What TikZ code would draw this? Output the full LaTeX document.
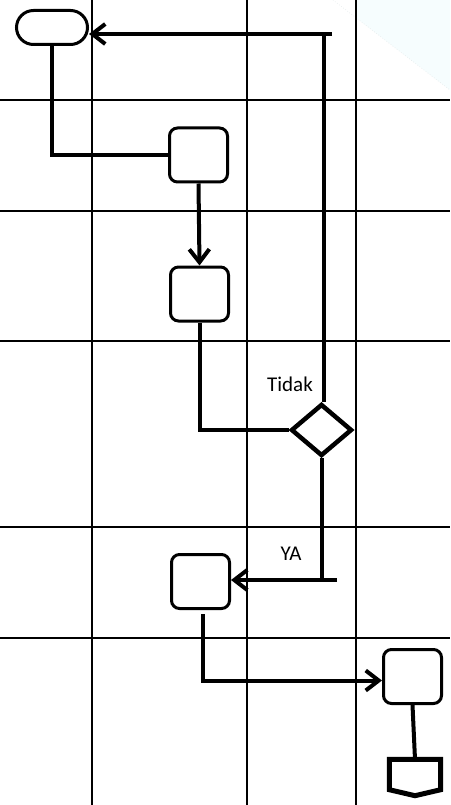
\documentclass[tikz,border=0pt]{standalone}
\usepackage{fontspec}
\setmainfont{Carlito}
\usetikzlibrary{arrows.meta,shapes.geometric,calc}
\definecolor{bgcyan}{RGB}{246,253,254}
\begin{document}
\begin{tikzpicture}[x=1pt,y=-1pt,
  gridline/.style={line width=2pt},
  conn/.style={line width=4pt},
  arr/.style={conn,-{Straight Barb[length=13pt,width=20pt]}},
  proc/.style={draw,line width=3pt,rounded corners=8pt,minimum width=58pt,minimum height=54pt,inner sep=0pt,fill=white},
  term/.style={draw,line width=3pt,rounded corners=17pt,minimum width=71pt,minimum height=34pt,inner sep=0pt,fill=white},
  dec/.style={diamond,draw,line width=4.5pt,minimum width=61pt,minimum height=52pt,inner sep=0pt,fill=white},
  lbl/.style={font=\fontsize{21}{24}\selectfont,inner sep=0pt}]
\useasboundingbox (0,0) rectangle (450,805);
\fill[white] (0,0) rectangle (450,805);
% faint background triangle
\fill[bgcyan] (356,0) -- (450,0) -- (450,90) -- (356,17.7) -- cycle;
\draw[bgcyan!85!gray, line width=0.6pt, dotted] (333,0) -- (450,90);
% grid
\foreach \x in {92,247,356} \draw[gridline] (\x,0) -- (\x,805);
\foreach \y in {100,211,341,527,638} \draw[gridline] (0,\y) -- (450,\y);
% nodes
\node[term] (start) at (52,27.5) {};
\node[proc] (box1) at (198.5,155) {};
\node[proc] (box2) at (199.5,294) {};
\node[dec] (dia) at (321.5,430) {};
\node[proc] (box3) at (200.5,581.5) {};
\node[proc] (box4) at (412.5,676.5) {};
\node[minimum width=51pt,minimum height=30pt,inner sep=0pt] (opc) at (415,774.5) {};
\draw[line width=5pt,fill=white] (opc.north west) -- (opc.north east) -- (opc.south east) -- ($(opc.south)+(0,6)$) -- (opc.south west) -- cycle;
% labels
\node[lbl] (tidak) at (290,384) {Tidak};
\node[lbl] (ya) at (291,554) {YA};
% connectors
\coordinate (c1) at (332,34);
\coordinate (c2) at (337,580);
\draw[conn] (start.south) |- (box1.west);
\draw[arr] (box1.south) -- (box2.north);
\draw[conn] (box2.south) |- (dia.west);
\draw[conn] ([xshift=2.5pt]dia.north) -- ([xshift=2.5pt]dia.north |- c1);
\draw[arr] (c1) -- (c1 -| start.east);
\draw[conn] (dia.south) -- (dia.south |- c2);
\draw[arr] (c2) -- (c2 -| box3.east);
\draw[arr] ([xshift=2.5pt,yshift=-4pt]box3.south) |- ([yshift=-4pt]box4.west);
\draw[conn] (box4.south) -- (opc.north);
\end{tikzpicture}
\end{document}
